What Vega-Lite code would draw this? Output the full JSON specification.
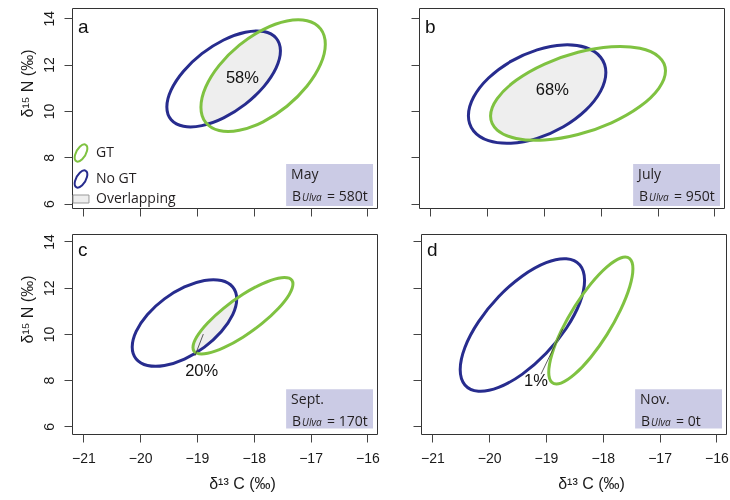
{
  "$schema": "https://vega.github.io/schema/vega-lite/v6.json",
  "background": "white",
  "padding": {"left": 18, "top": 7, "right": 3, "bottom": 2},
  "config": {
    "view": {"stroke": "#333333", "strokeWidth": 1},
    "axis": {"grid": false, "domain": false, "ticks": true, "tickSize": 8, "tickColor": "#444444", "tickWidth": 1, "format": "d", "labelFont": "Liberation Sans", "labelFontSize": 14, "labelColor": "#1a1a1a", "labelFlush": false, "labelOverlap": false, "titleFont": "Liberation Sans", "titleFontSize": 16, "titleFontWeight": "normal", "titleColor": "#1a1a1a"}
  },
  "datasets": {
    "ellipses": [
      {"panel":"a","group":"GT","i":0,"x":-16.740,"y":12.880},{"panel":"a","group":"GT","i":1,"x":-16.823,"y":13.538},{"panel":"a","group":"GT","i":2,"x":-17.061,"y":13.889},{"panel":"a","group":"GT","i":3,"x":-17.416,"y":13.879},{"panel":"a","group":"GT","i":4,"x":-17.835,"y":13.510},{"panel":"a","group":"GT","i":5,"x":-18.254,"y":12.838},{"panel":"a","group":"GT","i":6,"x":-18.609,"y":11.965},{"panel":"a","group":"GT","i":7,"x":-18.847,"y":11.025},{"panel":"a","group":"GT","i":8,"x":-18.930,"y":10.160},{"panel":"a","group":"GT","i":9,"x":-18.847,"y":9.502},{"panel":"a","group":"GT","i":10,"x":-18.609,"y":9.151},{"panel":"a","group":"GT","i":11,"x":-18.254,"y":9.161},{"panel":"a","group":"GT","i":12,"x":-17.835,"y":9.530},{"panel":"a","group":"GT","i":13,"x":-17.416,"y":10.202},{"panel":"a","group":"GT","i":14,"x":-17.061,"y":11.075},{"panel":"a","group":"GT","i":15,"x":-16.823,"y":12.015},
      {"panel":"a","group":"No GT","i":0,"x":-17.530,"y":12.590},{"panel":"a","group":"No GT","i":1,"x":-17.606,"y":13.141},{"panel":"a","group":"No GT","i":2,"x":-17.823,"y":13.424},{"panel":"a","group":"No GT","i":3,"x":-18.147,"y":13.395},{"panel":"a","group":"No GT","i":4,"x":-18.530,"y":13.060},{"panel":"a","group":"No GT","i":5,"x":-18.913,"y":12.469},{"panel":"a","group":"No GT","i":6,"x":-19.237,"y":11.712},{"panel":"a","group":"No GT","i":7,"x":-19.454,"y":10.905},{"panel":"a","group":"No GT","i":8,"x":-19.530,"y":10.170},{"panel":"a","group":"No GT","i":9,"x":-19.454,"y":9.619},{"panel":"a","group":"No GT","i":10,"x":-19.237,"y":9.337},{"panel":"a","group":"No GT","i":11,"x":-18.913,"y":9.365},{"panel":"a","group":"No GT","i":12,"x":-18.530,"y":9.700},{"panel":"a","group":"No GT","i":13,"x":-18.147,"y":10.291},{"panel":"a","group":"No GT","i":14,"x":-17.823,"y":11.048},{"panel":"a","group":"No GT","i":15,"x":-17.606,"y":11.855},
      {"panel":"b","group":"No GT","i":0,"x":-17.910,"y":11.655},{"panel":"b","group":"No GT","i":1,"x":-18.002,"y":12.316},{"panel":"b","group":"No GT","i":2,"x":-18.264,"y":12.734},{"panel":"b","group":"No GT","i":3,"x":-18.657,"y":12.847},{"panel":"b","group":"No GT","i":4,"x":-19.120,"y":12.636},{"panel":"b","group":"No GT","i":5,"x":-19.583,"y":12.135},{"panel":"b","group":"No GT","i":6,"x":-19.976,"y":11.419},{"panel":"b","group":"No GT","i":7,"x":-20.238,"y":10.597},{"panel":"b","group":"No GT","i":8,"x":-20.330,"y":9.795},{"panel":"b","group":"No GT","i":9,"x":-20.238,"y":9.135},{"panel":"b","group":"No GT","i":10,"x":-19.976,"y":8.716},{"panel":"b","group":"No GT","i":11,"x":-19.583,"y":8.604},{"panel":"b","group":"No GT","i":12,"x":-19.120,"y":8.814},{"panel":"b","group":"No GT","i":13,"x":-18.657,"y":9.315},{"panel":"b","group":"No GT","i":14,"x":-18.264,"y":10.031},{"panel":"b","group":"No GT","i":15,"x":-18.002,"y":10.853},
      {"panel":"b","group":"GT","i":0,"x":-16.860,"y":11.730},{"panel":"b","group":"GT","i":1,"x":-16.977,"y":12.335},{"panel":"b","group":"GT","i":2,"x":-17.311,"y":12.700},{"panel":"b","group":"GT","i":3,"x":-17.811,"y":12.768},{"panel":"b","group":"GT","i":4,"x":-18.400,"y":12.530},{"panel":"b","group":"GT","i":5,"x":-18.989,"y":12.022},{"panel":"b","group":"GT","i":6,"x":-19.489,"y":11.321},{"panel":"b","group":"GT","i":7,"x":-19.823,"y":10.534},{"panel":"b","group":"GT","i":8,"x":-19.940,"y":9.780},{"panel":"b","group":"GT","i":9,"x":-19.823,"y":9.175},{"panel":"b","group":"GT","i":10,"x":-19.489,"y":8.811},{"panel":"b","group":"GT","i":11,"x":-18.989,"y":8.742},{"panel":"b","group":"GT","i":12,"x":-18.400,"y":8.980},{"panel":"b","group":"GT","i":13,"x":-17.811,"y":9.488},{"panel":"b","group":"GT","i":14,"x":-17.311,"y":10.189},{"panel":"b","group":"GT","i":15,"x":-16.977,"y":10.977},
      {"panel":"c","group":"No GT","i":0,"x":-18.300,"y":11.507},{"panel":"c","group":"No GT","i":1,"x":-18.370,"y":12.025},{"panel":"c","group":"No GT","i":2,"x":-18.570,"y":12.306},{"panel":"c","group":"No GT","i":3,"x":-18.868,"y":12.308},{"panel":"c","group":"No GT","i":4,"x":-19.220,"y":12.030},{"panel":"c","group":"No GT","i":5,"x":-19.572,"y":11.514},{"panel":"c","group":"No GT","i":6,"x":-19.871,"y":10.840},{"panel":"c","group":"No GT","i":7,"x":-20.070,"y":10.109},{"panel":"c","group":"No GT","i":8,"x":-20.140,"y":9.433},{"panel":"c","group":"No GT","i":9,"x":-20.070,"y":8.915},{"panel":"c","group":"No GT","i":10,"x":-19.871,"y":8.634},{"panel":"c","group":"No GT","i":11,"x":-19.572,"y":8.632},{"panel":"c","group":"No GT","i":12,"x":-19.220,"y":8.910},{"panel":"c","group":"No GT","i":13,"x":-18.868,"y":9.426},{"panel":"c","group":"No GT","i":14,"x":-18.570,"y":10.100},{"panel":"c","group":"No GT","i":15,"x":-18.370,"y":10.831},
      {"panel":"c","group":"GT","i":0,"x":-17.310,"y":12.156},{"panel":"c","group":"GT","i":1,"x":-17.377,"y":12.407},{"panel":"c","group":"GT","i":2,"x":-17.568,"y":12.410},{"panel":"c","group":"GT","i":3,"x":-17.853,"y":12.166},{"panel":"c","group":"GT","i":4,"x":-18.190,"y":11.712},{"panel":"c","group":"GT","i":5,"x":-18.527,"y":11.117},{"panel":"c","group":"GT","i":6,"x":-18.812,"y":10.471},{"panel":"c","group":"GT","i":7,"x":-19.003,"y":9.873},{"panel":"c","group":"GT","i":8,"x":-19.070,"y":9.414},{"panel":"c","group":"GT","i":9,"x":-19.003,"y":9.164},{"panel":"c","group":"GT","i":10,"x":-18.812,"y":9.160},{"panel":"c","group":"GT","i":11,"x":-18.527,"y":9.404},{"panel":"c","group":"GT","i":12,"x":-18.190,"y":9.858},{"panel":"c","group":"GT","i":13,"x":-17.853,"y":10.453},{"panel":"c","group":"GT","i":14,"x":-17.568,"y":11.099},{"panel":"c","group":"GT","i":15,"x":-17.377,"y":11.697},
      {"panel":"d","group":"No GT","i":0,"x":-18.320,"y":12.310},{"panel":"d","group":"No GT","i":1,"x":-18.403,"y":12.976},{"panel":"d","group":"No GT","i":2,"x":-18.641,"y":13.247},{"panel":"d","group":"No GT","i":3,"x":-18.996,"y":13.082},{"panel":"d","group":"No GT","i":4,"x":-19.415,"y":12.506},{"panel":"d","group":"No GT","i":5,"x":-19.834,"y":11.607},{"panel":"d","group":"No GT","i":6,"x":-20.189,"y":10.522},{"panel":"d","group":"No GT","i":7,"x":-20.427,"y":9.415},{"panel":"d","group":"No GT","i":8,"x":-20.510,"y":8.456},{"panel":"d","group":"No GT","i":9,"x":-20.427,"y":7.790},{"panel":"d","group":"No GT","i":10,"x":-20.189,"y":7.519},{"panel":"d","group":"No GT","i":11,"x":-19.834,"y":7.684},{"panel":"d","group":"No GT","i":12,"x":-19.415,"y":8.260},{"panel":"d","group":"No GT","i":13,"x":-18.996,"y":9.159},{"panel":"d","group":"No GT","i":14,"x":-18.641,"y":10.244},{"panel":"d","group":"No GT","i":15,"x":-18.403,"y":11.351},
      {"panel":"d","group":"GT","i":0,"x":-17.469,"y":12.816},{"panel":"d","group":"GT","i":1,"x":-17.525,"y":13.252},{"panel":"d","group":"GT","i":2,"x":-17.686,"y":13.281},{"panel":"d","group":"GT","i":3,"x":-17.926,"y":12.898},{"panel":"d","group":"GT","i":4,"x":-18.210,"y":12.162},{"panel":"d","group":"GT","i":5,"x":-18.494,"y":11.184},{"panel":"d","group":"GT","i":6,"x":-18.734,"y":10.115},{"panel":"d","group":"GT","i":7,"x":-18.895,"y":9.115},{"panel":"d","group":"GT","i":8,"x":-18.951,"y":8.338},{"panel":"d","group":"GT","i":9,"x":-18.895,"y":7.902},{"panel":"d","group":"GT","i":10,"x":-18.734,"y":7.873},{"panel":"d","group":"GT","i":11,"x":-18.494,"y":8.256},{"panel":"d","group":"GT","i":12,"x":-18.210,"y":8.992},{"panel":"d","group":"GT","i":13,"x":-17.926,"y":9.970},{"panel":"d","group":"GT","i":14,"x":-17.686,"y":11.039},{"panel":"d","group":"GT","i":15,"x":-17.525,"y":12.039}
    ],
    "notes": [
      {"panel":"a","month":"May","bio":"= 580t","pct":"58%"},
      {"panel":"b","month":"July","bio":"= 950t","pct":"68%"},
      {"panel":"c","month":"Sept.","bio":"= 170t","pct":"20%"},
      {"panel":"d","month":"Nov.","bio":"= 0t","pct":"1%"}
    ]
  },
  "resolve": {"scale": {"stroke": "independent"}, "legend": {"stroke": "independent"}},
  "spacing": 16,
  "vconcat": [
    {
      "spacing": 32,
      "resolve": {"scale": {"stroke": "independent"}, "legend": {"stroke": "independent"}},
      "hconcat": [
        {
          "width": 305, "height": 200,
          "layer": [
            {
              "data": {"name": "ellipses"},
              "transform": [{"filter": "datum.panel === 'a'"}],
              "encoding": {
                "x": {"field": "x", "type": "quantitative", "scale": {"domain": [-21.2, -15.83], "nice": false, "zero": false}, "axis": {"values": [-21,-20,-19,-18,-17,-16], "labels": false, "title": null}},
                "y": {"field": "y", "type": "quantitative", "scale": {"domain": [5.81, 14.44], "nice": false, "zero": false}, "axis": {"values": [6,8,10,12,14], "title": "δ¹⁵ N (‰)", "labelAngle": -90, "labelAlign": "center", "labelBaseline": "bottom", "labelPadding": 8, "titlePadding": 7, "titleY": 75}},
                "order": {"field": "i", "type": "quantitative"}
              },
              "layer": [
                {"transform": [{"filter": "datum.group === 'GT'"}], "mark": {"type": "line", "interpolate": "cardinal-closed", "fill": "#000000", "strokeWidth": 0, "strokeOpacity": 0}},
                {"transform": [{"filter": "datum.group === 'No GT'"}], "mark": {"type": "line", "interpolate": "cardinal-closed", "fill": "#111111", "blend": "lighten", "strokeWidth": 0, "strokeOpacity": 0}},
                {"transform": [{"filter": "datum.group === 'GT'"}], "mark": {"type": "line", "interpolate": "cardinal-closed", "fill": "#ffffff", "blend": "difference", "strokeWidth": 0, "strokeOpacity": 0}},
                {"transform": [{"filter": "datum.group === 'No GT'"}], "mark": {"type": "line", "interpolate": "cardinal-closed", "strokeWidth": 3},
                 "encoding": {"stroke": {"field": "group", "type": "nominal", "scale": {"domain": ["GT","No GT","Overlapping"], "range": ["#7fc241","#272c8e","#999999"]},
                   "legend": {"orient": "bottom-left", "title": null, "offset": 1, "padding": 1, "rowPadding": 0, "symbolSize": 361, "symbolStrokeWidth": 2, "symbolType": "M0.5,-0.866A0.5,1,30,1,1,-0.5,0.866A0.5,1,30,1,1,0.5,-0.866Z", "labelFont": "Open Sans", "labelFontSize": 14, "labelColor": "#231f20", "labelOffset": 8,
                     "encode": {"symbols": {"update": {"shape": {"signal": "datum.value === 'Overlapping' ? 'M-0.84,-0.42H0.84V0.42H-0.84Z' : 'M0.5,-0.866A0.5,1,30,1,1,-0.5,0.866A0.5,1,30,1,1,0.5,-0.866Z'"}, "fill": {"signal": "datum.value === 'Overlapping' ? '#eeeeee' : 'transparent'"}, "strokeWidth": {"signal": "datum.value === 'Overlapping' ? 1 : 2"}}}}}}}},
                {"transform": [{"filter": "datum.group === 'GT'"}], "mark": {"type": "line", "interpolate": "cardinal-closed", "strokeWidth": 3},
                 "encoding": {"stroke": {"field": "group", "type": "nominal", "scale": {"domain": ["GT","No GT","Overlapping"], "range": ["#7fc241","#272c8e","#999999"]},
                   "legend": {"orient": "bottom-left", "title": null, "offset": 1, "padding": 1, "rowPadding": 0, "symbolSize": 361, "symbolStrokeWidth": 2, "symbolType": "M0.5,-0.866A0.5,1,30,1,1,-0.5,0.866A0.5,1,30,1,1,0.5,-0.866Z", "labelFont": "Open Sans", "labelFontSize": 14, "labelColor": "#231f20", "labelOffset": 8,
                     "encode": {"symbols": {"update": {"shape": {"signal": "datum.value === 'Overlapping' ? 'M-0.84,-0.42H0.84V0.42H-0.84Z' : 'M0.5,-0.866A0.5,1,30,1,1,-0.5,0.866A0.5,1,30,1,1,0.5,-0.866Z'"}, "fill": {"signal": "datum.value === 'Overlapping' ? '#eeeeee' : 'transparent'"}, "strokeWidth": {"signal": "datum.value === 'Overlapping' ? 1 : 2"}}}}}}}}
              ]
            },
            {"data": {"name": "notes"}, "transform": [{"filter": "datum.panel === 'a'"}], "mark": {"type": "rect", "fill": "#cbcbe5"}, "encoding": {"x": {"datum": -17.43, "type": "quantitative"}, "x2": {"datum": -15.9}, "y": {"datum": 5.9, "type": "quantitative"}, "y2": {"datum": 7.71}}},
            {"data": {"name": "notes"}, "transform": [{"filter": "datum.panel === 'a'"}], "mark": {"type": "text", "align": "left", "baseline": "alphabetic", "dx": 5, "dy": 15, "font": "Open Sans", "fontSize": 14, "color": "#231f20"}, "encoding": {"x": {"datum": -17.43, "type": "quantitative"}, "y": {"datum": 7.71, "type": "quantitative"}, "text": {"field": "month"}}},
            {"data": {"name": "notes"}, "transform": [{"filter": "datum.panel === 'a'"}], "mark": {"type": "text", "text": "B", "align": "left", "baseline": "alphabetic", "dx": 6, "dy": 37, "font": "Open Sans", "fontSize": 14, "color": "#231f20"}, "encoding": {"x": {"datum": -17.43, "type": "quantitative"}, "y": {"datum": 7.71, "type": "quantitative"}}},
            {"data": {"name": "notes"}, "transform": [{"filter": "datum.panel === 'a'"}], "mark": {"type": "text", "text": "Ulva", "align": "left", "baseline": "alphabetic", "dx": 16, "dy": 37, "font": "Open Sans", "fontSize": 10, "fontStyle": "italic", "color": "#231f20"}, "encoding": {"x": {"datum": -17.43, "type": "quantitative"}, "y": {"datum": 7.71, "type": "quantitative"}}},
            {"data": {"name": "notes"}, "transform": [{"filter": "datum.panel === 'a'"}], "mark": {"type": "text", "align": "left", "baseline": "alphabetic", "dx": 41, "dy": 37, "font": "Open Sans", "fontSize": 14, "color": "#231f20"}, "encoding": {"x": {"datum": -17.43, "type": "quantitative"}, "y": {"datum": 7.71, "type": "quantitative"}, "text": {"field": "bio"}}},
            {"data": {"name": "notes"}, "transform": [{"filter": "datum.panel === 'a'"}], "mark": {"type": "text", "align": "center", "baseline": "alphabetic", "font": "Liberation Sans", "fontSize": 16.5, "color": "#111111"}, "encoding": {"x": {"datum": -18.2, "type": "quantitative"}, "y": {"datum": 11.2, "type": "quantitative"}, "text": {"field": "pct"}}},
            {"data": {"name": "notes"}, "transform": [{"filter": "datum.panel === 'a'"}], "mark": {"type": "text", "align": "left", "baseline": "alphabetic", "dx": 6, "dy": 25, "font": "Liberation Sans", "fontSize": 19, "color": "#111111"}, "encoding": {"x": {"datum": -21.2, "type": "quantitative"}, "y": {"datum": 14.44, "type": "quantitative"}, "text": {"field": "panel"}}}
          ]
        },
        {
          "width": 305, "height": 200,
          "layer": [
            {
              "data": {"name": "ellipses"},
              "transform": [{"filter": "datum.panel === 'b'"}],
              "encoding": {
                "x": {"field": "x", "type": "quantitative", "scale": {"domain": [-21.2, -15.83], "nice": false, "zero": false}, "axis": {"values": [-21,-20,-19,-18,-17,-16], "labels": false, "title": null}},
                "y": {"field": "y", "type": "quantitative", "scale": {"domain": [5.81, 14.44], "nice": false, "zero": false}, "axis": {"values": [6,8,10,12,14], "labels": false, "title": null}},
                "order": {"field": "i", "type": "quantitative"}
              },
              "layer": [
                {"transform": [{"filter": "datum.group === 'GT'"}], "mark": {"type": "line", "interpolate": "cardinal-closed", "fill": "#000000", "strokeWidth": 0, "strokeOpacity": 0}},
                {"transform": [{"filter": "datum.group === 'No GT'"}], "mark": {"type": "line", "interpolate": "cardinal-closed", "fill": "#111111", "blend": "lighten", "strokeWidth": 0, "strokeOpacity": 0}},
                {"transform": [{"filter": "datum.group === 'GT'"}], "mark": {"type": "line", "interpolate": "cardinal-closed", "fill": "#ffffff", "blend": "difference", "strokeWidth": 0, "strokeOpacity": 0}},
                {"transform": [{"filter": "datum.group === 'No GT'"}], "mark": {"type": "line", "interpolate": "cardinal-closed", "strokeWidth": 3},
                 "encoding": {"stroke": {"field": "group", "type": "nominal", "scale": {"domain": ["GT","No GT","Overlapping"], "range": ["#7fc241","#272c8e","#999999"]}, "legend": null}}},
                {"transform": [{"filter": "datum.group === 'GT'"}], "mark": {"type": "line", "interpolate": "cardinal-closed", "strokeWidth": 3},
                 "encoding": {"stroke": {"field": "group", "type": "nominal", "scale": {"domain": ["GT","No GT","Overlapping"], "range": ["#7fc241","#272c8e","#999999"]}, "legend": null}}}
              ]
            },
            {"data": {"name": "notes"}, "transform": [{"filter": "datum.panel === 'b'"}], "mark": {"type": "rect", "fill": "#cbcbe5"}, "encoding": {"x": {"datum": -17.43, "type": "quantitative"}, "x2": {"datum": -15.9}, "y": {"datum": 5.9, "type": "quantitative"}, "y2": {"datum": 7.71}}},
            {"data": {"name": "notes"}, "transform": [{"filter": "datum.panel === 'b'"}], "mark": {"type": "text", "align": "left", "baseline": "alphabetic", "dx": 5, "dy": 15, "font": "Open Sans", "fontSize": 14, "color": "#231f20"}, "encoding": {"x": {"datum": -17.43, "type": "quantitative"}, "y": {"datum": 7.71, "type": "quantitative"}, "text": {"field": "month"}}},
            {"data": {"name": "notes"}, "transform": [{"filter": "datum.panel === 'b'"}], "mark": {"type": "text", "text": "B", "align": "left", "baseline": "alphabetic", "dx": 6, "dy": 37, "font": "Open Sans", "fontSize": 14, "color": "#231f20"}, "encoding": {"x": {"datum": -17.43, "type": "quantitative"}, "y": {"datum": 7.71, "type": "quantitative"}}},
            {"data": {"name": "notes"}, "transform": [{"filter": "datum.panel === 'b'"}], "mark": {"type": "text", "text": "Ulva", "align": "left", "baseline": "alphabetic", "dx": 16, "dy": 37, "font": "Open Sans", "fontSize": 10, "fontStyle": "italic", "color": "#231f20"}, "encoding": {"x": {"datum": -17.43, "type": "quantitative"}, "y": {"datum": 7.71, "type": "quantitative"}}},
            {"data": {"name": "notes"}, "transform": [{"filter": "datum.panel === 'b'"}], "mark": {"type": "text", "align": "left", "baseline": "alphabetic", "dx": 41, "dy": 37, "font": "Open Sans", "fontSize": 14, "color": "#231f20"}, "encoding": {"x": {"datum": -17.43, "type": "quantitative"}, "y": {"datum": 7.71, "type": "quantitative"}, "text": {"field": "bio"}}},
            {"data": {"name": "notes"}, "transform": [{"filter": "datum.panel === 'b'"}], "mark": {"type": "text", "align": "center", "baseline": "alphabetic", "font": "Liberation Sans", "fontSize": 16.5, "color": "#111111"}, "encoding": {"x": {"datum": -18.853, "type": "quantitative"}, "y": {"datum": 10.67, "type": "quantitative"}, "text": {"field": "pct"}}},
            {"data": {"name": "notes"}, "transform": [{"filter": "datum.panel === 'b'"}], "mark": {"type": "text", "align": "left", "baseline": "alphabetic", "dx": 6, "dy": 25, "font": "Liberation Sans", "fontSize": 19, "color": "#111111"}, "encoding": {"x": {"datum": -21.2, "type": "quantitative"}, "y": {"datum": 14.44, "type": "quantitative"}, "text": {"field": "panel"}}}
          ]
        }
      ]
    },
    {
      "spacing": 32,
      "resolve": {"scale": {"stroke": "independent"}, "legend": {"stroke": "independent"}},
      "hconcat": [
        {
          "width": 305, "height": 200,
          "layer": [
            {
              "data": {"name": "ellipses"},
              "transform": [{"filter": "datum.panel === 'c'"}],
              "encoding": {
                "x": {"field": "x", "type": "quantitative", "scale": {"domain": [-21.2, -15.83], "nice": false, "zero": false}, "axis": {"values": [-21,-20,-19,-18,-17,-16], "title": "δ¹³ C (‰)", "labelPadding": 9, "titlePadding": 10, "titleX": 170}},
                "y": {"field": "y", "type": "quantitative", "scale": {"domain": [5.67, 14.32], "nice": false, "zero": false}, "axis": {"values": [6,8,10,12,14], "title": "δ¹⁵ N (‰)", "labelAngle": -90, "labelAlign": "center", "labelBaseline": "bottom", "labelPadding": 8, "titlePadding": 7, "titleY": 75}},
                "order": {"field": "i", "type": "quantitative"}
              },
              "layer": [
                {"transform": [{"filter": "datum.group === 'GT'"}], "mark": {"type": "line", "interpolate": "cardinal-closed", "fill": "#000000", "strokeWidth": 0, "strokeOpacity": 0}},
                {"transform": [{"filter": "datum.group === 'No GT'"}], "mark": {"type": "line", "interpolate": "cardinal-closed", "fill": "#111111", "blend": "lighten", "strokeWidth": 0, "strokeOpacity": 0}},
                {"transform": [{"filter": "datum.group === 'GT'"}], "mark": {"type": "line", "interpolate": "cardinal-closed", "fill": "#ffffff", "blend": "difference", "strokeWidth": 0, "strokeOpacity": 0}},
                {"transform": [{"filter": "datum.group === 'No GT'"}], "mark": {"type": "line", "interpolate": "cardinal-closed", "strokeWidth": 3},
                 "encoding": {"stroke": {"field": "group", "type": "nominal", "scale": {"domain": ["GT","No GT","Overlapping"], "range": ["#7fc241","#272c8e","#999999"]}, "legend": null}}},
                {"transform": [{"filter": "datum.group === 'GT'"}], "mark": {"type": "line", "interpolate": "cardinal-closed", "strokeWidth": 3},
                 "encoding": {"stroke": {"field": "group", "type": "nominal", "scale": {"domain": ["GT","No GT","Overlapping"], "range": ["#7fc241","#272c8e","#999999"]}, "legend": null}}}
              ]
            },
            {"data": {"name": "notes"}, "transform": [{"filter": "datum.panel === 'c'"}], "mark": {"type": "rule", "color": "#333333", "strokeWidth": 0.8}, "encoding": {"x": {"datum": -19.035, "type": "quantitative"}, "y": {"datum": 9.052, "type": "quantitative"}, "x2": {"datum": -18.888}, "y2": {"datum": 9.991}}},
            {"data": {"name": "notes"}, "transform": [{"filter": "datum.panel === 'c'"}], "mark": {"type": "rect", "fill": "#cbcbe5"}, "encoding": {"x": {"datum": -17.43, "type": "quantitative"}, "x2": {"datum": -15.9}, "y": {"datum": 5.91, "type": "quantitative"}, "y2": {"datum": 7.61}}},
            {"data": {"name": "notes"}, "transform": [{"filter": "datum.panel === 'c'"}], "mark": {"type": "text", "align": "left", "baseline": "alphabetic", "dx": 5, "dy": 15, "font": "Open Sans", "fontSize": 14, "color": "#231f20"}, "encoding": {"x": {"datum": -17.43, "type": "quantitative"}, "y": {"datum": 7.61, "type": "quantitative"}, "text": {"field": "month"}}},
            {"data": {"name": "notes"}, "transform": [{"filter": "datum.panel === 'c'"}], "mark": {"type": "text", "text": "B", "align": "left", "baseline": "alphabetic", "dx": 6, "dy": 37, "font": "Open Sans", "fontSize": 14, "color": "#231f20"}, "encoding": {"x": {"datum": -17.43, "type": "quantitative"}, "y": {"datum": 7.61, "type": "quantitative"}}},
            {"data": {"name": "notes"}, "transform": [{"filter": "datum.panel === 'c'"}], "mark": {"type": "text", "text": "Ulva", "align": "left", "baseline": "alphabetic", "dx": 16, "dy": 37, "font": "Open Sans", "fontSize": 10, "fontStyle": "italic", "color": "#231f20"}, "encoding": {"x": {"datum": -17.43, "type": "quantitative"}, "y": {"datum": 7.61, "type": "quantitative"}}},
            {"data": {"name": "notes"}, "transform": [{"filter": "datum.panel === 'c'"}], "mark": {"type": "text", "align": "left", "baseline": "alphabetic", "dx": 41, "dy": 37, "font": "Open Sans", "fontSize": 14, "color": "#231f20"}, "encoding": {"x": {"datum": -17.43, "type": "quantitative"}, "y": {"datum": 7.61, "type": "quantitative"}, "text": {"field": "bio"}}},
            {"data": {"name": "notes"}, "transform": [{"filter": "datum.panel === 'c'"}], "mark": {"type": "text", "align": "center", "baseline": "alphabetic", "font": "Liberation Sans", "fontSize": 16.5, "color": "#111111"}, "encoding": {"x": {"datum": -18.917, "type": "quantitative"}, "y": {"datum": 8.2, "type": "quantitative"}, "text": {"field": "pct"}}},
            {"data": {"name": "notes"}, "transform": [{"filter": "datum.panel === 'c'"}], "mark": {"type": "text", "align": "left", "baseline": "alphabetic", "dx": 6, "dy": 22, "font": "Liberation Sans", "fontSize": 19, "color": "#111111"}, "encoding": {"x": {"datum": -21.2, "type": "quantitative"}, "y": {"datum": 14.32, "type": "quantitative"}, "text": {"field": "panel"}}}
          ]
        },
        {
          "width": 305, "height": 200,
          "layer": [
            {
              "data": {"name": "ellipses"},
              "transform": [{"filter": "datum.panel === 'd'"}],
              "encoding": {
                "x": {"field": "x", "type": "quantitative", "scale": {"domain": [-21.2, -15.83], "nice": false, "zero": false}, "axis": {"values": [-21,-20,-19,-18,-17,-16], "title": "δ¹³ C (‰)", "labelPadding": 9, "titlePadding": 10, "titleX": 170}},
                "y": {"field": "y", "type": "quantitative", "scale": {"domain": [5.67, 14.32], "nice": false, "zero": false}, "axis": {"values": [6,8,10,12,14], "labels": false, "title": null}},
                "order": {"field": "i", "type": "quantitative"}
              },
              "layer": [
                {"transform": [{"filter": "datum.group === 'GT'"}], "mark": {"type": "line", "interpolate": "cardinal-closed", "fill": "#000000", "strokeWidth": 0, "strokeOpacity": 0}},
                {"transform": [{"filter": "datum.group === 'No GT'"}], "mark": {"type": "line", "interpolate": "cardinal-closed", "fill": "#111111", "blend": "lighten", "strokeWidth": 0, "strokeOpacity": 0}},
                {"transform": [{"filter": "datum.group === 'GT'"}], "mark": {"type": "line", "interpolate": "cardinal-closed", "fill": "#ffffff", "blend": "difference", "strokeWidth": 0, "strokeOpacity": 0}},
                {"transform": [{"filter": "datum.group === 'No GT'"}], "mark": {"type": "line", "interpolate": "cardinal-closed", "strokeWidth": 3},
                 "encoding": {"stroke": {"field": "group", "type": "nominal", "scale": {"domain": ["GT","No GT","Overlapping"], "range": ["#7fc241","#272c8e","#999999"]}, "legend": null}}},
                {"transform": [{"filter": "datum.group === 'GT'"}], "mark": {"type": "line", "interpolate": "cardinal-closed", "strokeWidth": 3},
                 "encoding": {"stroke": {"field": "group", "type": "nominal", "scale": {"domain": ["GT","No GT","Overlapping"], "range": ["#7fc241","#272c8e","#999999"]}, "legend": null}}}
              ]
            },
            {"data": {"name": "notes"}, "transform": [{"filter": "datum.panel === 'd'"}], "mark": {"type": "rule", "color": "#333333", "strokeWidth": 0.8}, "encoding": {"x": {"datum": -19.087, "type": "quantitative"}, "y": {"datum": 8.26, "type": "quantitative"}, "x2": {"datum": -18.705}, "y2": {"datum": 10.207}}},
            {"data": {"name": "notes"}, "transform": [{"filter": "datum.panel === 'd'"}], "mark": {"type": "rect", "fill": "#cbcbe5"}, "encoding": {"x": {"datum": -17.43, "type": "quantitative"}, "x2": {"datum": -15.9}, "y": {"datum": 5.91, "type": "quantitative"}, "y2": {"datum": 7.61}}},
            {"data": {"name": "notes"}, "transform": [{"filter": "datum.panel === 'd'"}], "mark": {"type": "text", "align": "left", "baseline": "alphabetic", "dx": 5, "dy": 15, "font": "Open Sans", "fontSize": 14, "color": "#231f20"}, "encoding": {"x": {"datum": -17.43, "type": "quantitative"}, "y": {"datum": 7.61, "type": "quantitative"}, "text": {"field": "month"}}},
            {"data": {"name": "notes"}, "transform": [{"filter": "datum.panel === 'd'"}], "mark": {"type": "text", "text": "B", "align": "left", "baseline": "alphabetic", "dx": 6, "dy": 37, "font": "Open Sans", "fontSize": 14, "color": "#231f20"}, "encoding": {"x": {"datum": -17.43, "type": "quantitative"}, "y": {"datum": 7.61, "type": "quantitative"}}},
            {"data": {"name": "notes"}, "transform": [{"filter": "datum.panel === 'd'"}], "mark": {"type": "text", "text": "Ulva", "align": "left", "baseline": "alphabetic", "dx": 16, "dy": 37, "font": "Open Sans", "fontSize": 10, "fontStyle": "italic", "color": "#231f20"}, "encoding": {"x": {"datum": -17.43, "type": "quantitative"}, "y": {"datum": 7.61, "type": "quantitative"}}},
            {"data": {"name": "notes"}, "transform": [{"filter": "datum.panel === 'd'"}], "mark": {"type": "text", "align": "left", "baseline": "alphabetic", "dx": 41, "dy": 37, "font": "Open Sans", "fontSize": 14, "color": "#231f20"}, "encoding": {"x": {"datum": -17.43, "type": "quantitative"}, "y": {"datum": 7.61, "type": "quantitative"}, "text": {"field": "bio"}}},
            {"data": {"name": "notes"}, "transform": [{"filter": "datum.panel === 'd'"}], "mark": {"type": "text", "align": "center", "baseline": "alphabetic", "font": "Liberation Sans", "fontSize": 16.5, "color": "#111111"}, "encoding": {"x": {"datum": -19.175, "type": "quantitative"}, "y": {"datum": 7.75, "type": "quantitative"}, "text": {"field": "pct"}}},
            {"data": {"name": "notes"}, "transform": [{"filter": "datum.panel === 'd'"}], "mark": {"type": "text", "align": "left", "baseline": "alphabetic", "dx": 6, "dy": 22, "font": "Liberation Sans", "fontSize": 19, "color": "#111111"}, "encoding": {"x": {"datum": -21.2, "type": "quantitative"}, "y": {"datum": 14.32, "type": "quantitative"}, "text": {"field": "panel"}}}
          ]
        }
      ]
    }
  ]
}
